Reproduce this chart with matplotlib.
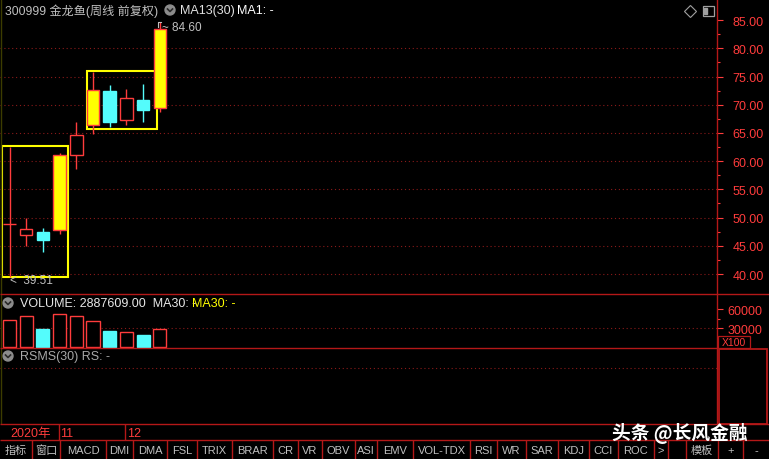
import numpy as np
import matplotlib
matplotlib.use("Agg")
import matplotlib.pyplot as plt
from matplotlib.patches import Rectangle, Circle

plt.rcParams['font.family'] = ['Liberation Sans', 'Noto Sans CJK SC', 'DejaVu Sans']

# weekly candles, 300999 金龙鱼
opens = [48.95, 46.97, 47.39, 47.85, 61.09, 66.46, 72.38, 67.35, 70.89, 69.47]
closes = [48.95, 47.98, 46.08, 61.14, 64.64, 72.66, 66.99, 71.14, 69.12, 83.50]
highs = [62.50, 49.93, 48.10, 61.45, 66.99, 75.75, 73.50, 72.79, 73.62, 84.60]
lows = [39.51, 45.02, 43.85, 47.10, 58.61, 64.81, 66.10, 66.41, 66.89, 68.66]
volumes = [4310000, 4942000, 2889000, 5258000, 4942000, 4105000, 2574000, 2368000, 1942000, 2887609]
highlighted = [3, 5, 9]
# yellow marker boxes: (first week, last week, low price, high price)
boxes = [(-0.45, 3.5, 39.4, 62.7), (4.64, 8.83, 65.7, 75.92)]
month_marks = [(3, '11'), (7, '12')]
price_ticks = [40, 45, 50, 55, 60, 65, 70, 75, 80, 85]
vol_ticks = [30000, 60000]
buttons = ['指标', '窗口', 'MACD', 'DMI', 'DMA', 'FSL', 'TRIX', 'BRAR', 'CR', 'VR', 'OBV',
           'ASI', 'EMV', 'VOL-TDX', 'RSI', 'WR', 'SAR', 'KDJ', 'CCI', 'ROC', '>', '', '模板', '+', '-']
button_edges = [0, 32, 60, 106, 133, 167, 197, 232, 273, 298, 322, 355, 377, 413, 470, 497,
                526, 558, 589, 618, 654, 668, 686, 718, 743, 769]

RED = '#ff3c3c'
CYAN = '#54fcfc'
YEL = '#ffff00'
GRID = '#8a1a1a'
LINE = '#b41818'
GRAY = '#c0c0c0'

W, H = 769, 460
fig = plt.figure(figsize=(W / 100, H / 100), dpi=100, facecolor='black')


def rect(x0, y0, x1, y1):
    return [x0 / W, 1 - y1 / H, (x1 - x0) / W, (y1 - y0) / H]


ax = fig.add_axes(rect(0, 0, 717, 295))
axv = fig.add_axes(rect(0, 295, 717, 349), sharex=ax)
axr = fig.add_axes(rect(0, 349, 717, 425), sharex=ax)
axd = fig.add_axes(rect(0, 425, 717, 441), sharex=ax)
for a in (ax, axv, axr, axd):
    a.set_facecolor('black')
    for s in a.spines.values():
        s.set_visible(False)
    a.tick_params(axis='x', bottom=False, labelbottom=False)
    a.tick_params(axis='y', left=False, labelleft=False)

ax.set_xlim(-0.569, 42.37)
ax.set_ylim(36.46, 88.74)

# price grid
for lv in price_ticks[:-1]:
    ax.axhline(lv, color=GRID, lw=0.8, ls=(0, (1, 2.5)), zorder=1)

x = np.arange(len(opens))
w = 0.75
for i in x:
    o, c, hi, lo = opens[i], closes[i], highs[i], lows[i]
    up = c >= o
    if i in highlighted:
        fc, ec, wc = YEL, RED, RED
    elif up:
        fc, ec, wc = 'black', RED, RED
    else:
        fc, ec, wc = CYAN, CYAN, CYAN
    ax.vlines(i, lo, hi, color=wc, lw=1, zorder=3)
    if abs(c - o) < 0.01:
        ax.hlines(o, i - w / 2, i + w / 2, color=wc, lw=1, zorder=4)
    else:
        ax.bar(i, abs(c - o), bottom=min(o, c), width=w, color=fc, edgecolor=ec, lw=1, zorder=4)

for x0, x1, y0, y1 in boxes:
    ax.add_patch(Rectangle((x0, y0), x1 - x0, y1 - y0, fill=False, ec=YEL, lw=1.5, zorder=2))

imax = int(np.argmax(highs))
ax.annotate('~ 84.60', xy=(imax - 0.1, highs[imax]), xytext=(3, -3), textcoords='offset points',
            ha='left', va='center', color=GRAY, fontsize=8.5, zorder=5)
ax.plot([imax - 0.1, imax - 0.1, imax + 0.05], [highs[imax] - 0.9, highs[imax], highs[imax]],
        color=GRAY, lw=0.8, zorder=5)
imin = int(np.argmin(lows))
ax.annotate('<  39.51', xy=(imin, lows[imin]), xytext=(0.5, -2.5), textcoords='offset points',
            ha='left', va='center', color=GRAY, fontsize=8.5, zorder=5)

ax.yaxis.tick_right()
ax.set_yticks(price_ticks)
ax.set_yticklabels([f'{v:.2f}' for v in price_ticks])
ax.set_yticks([v + 2.5 for v in price_ticks[:-1]], minor=True)
ax.tick_params(axis='y', which='major', right=True, labelright=True, colors=RED,
               length=4.3, width=0.8, pad=7, labelsize=9)
ax.tick_params(axis='y', which='minor', right=True, colors=RED, length=2.2, width=0.8)

# volume
vol_h = np.array(volumes) / 100
axv.set_ylim(-1100, 84150)
axv.axhline(30000, color=GRID, lw=0.8, ls=(0, (1, 2.5)), zorder=1)
for i in x:
    up = closes[i] >= opens[i]
    if up:
        axv.bar(i, vol_h[i], width=0.78, color='black', edgecolor=RED, lw=1, zorder=3)
    else:
        axv.bar(i, vol_h[i], width=0.78, color=CYAN, edgecolor=CYAN, lw=1, zorder=3)
axv.yaxis.tick_right()
axv.set_yticks(vol_ticks)
axv.set_yticklabels([str(v) for v in vol_ticks])
axv.set_yticks([45000], minor=True)
axv.tick_params(axis='y', which='major', right=True, labelright=True, colors=RED,
                length=4.3, width=0.8, pad=3.5, labelsize=9)
axv.tick_params(axis='y', which='minor', right=True, colors=RED, length=2.2, width=0.8)

# RSMS panel
axr.set_ylim(0, 1)
axr.axhline(0.74, color=GRID, lw=0.8, ls=(0, (1, 2.5)))

# date row
axd.set_ylim(0, 1)
axd.text(0.02, 0.45, '2020年', color=RED, fontsize=9, va='center', ha='left')
for idx, lab in month_marks:
    axd.vlines(idx - 0.06, 0, 1, color=LINE, lw=1)
    axd.text(idx + 0.03, 0.45, lab, color=RED, fontsize=9, va='center', ha='left')

# overlay for frame and chrome
ov = fig.add_axes([0, 0, 1, 1], zorder=10)
ov.patch.set_alpha(0)
ov.set_xlim(0, W)
ov.set_ylim(H, 0)
ov.axis('off')

ov.vlines(717, 0, 425, color=LINE, lw=1)
ov.vlines(0.5, 0, 425, color='#3c3c00', lw=1)
ov.hlines([295, 425, 441], 0, W, color=LINE, lw=1)
ov.hlines(349, 0, 717, color=LINE, lw=1)
ov.add_patch(Rectangle((718, 337), 32, 11.5, fill=False, ec=LINE, lw=0.9))
ov.text(734, 343, 'X100', color=RED, fontsize=7.5, va='center', ha='center')
ov.add_patch(Rectangle((718.5, 350), 48.5, 74.5, fill=False, ec=LINE, lw=1.3))

ov.text(5, 11, '300999 金龙鱼(周线 前复权)', color=GRAY, fontsize=8.7, va='center', ha='left')
ov.text(180, 11, 'MA13(30)', color='#e0e0e0', fontsize=9, va='center', ha='left')
ov.text(237, 11, 'MA1: -', color='white', fontsize=9, va='center', ha='left')
ov.text(20, 304, 'VOLUME: 2887609.00  MA30: -', color='#e8e8e8', fontsize=9, va='center', ha='left')
ov.text(192, 304, 'MA30: -', color=YEL, fontsize=9, va='center', ha='left')
ov.text(20, 357, 'RSMS(30) RS: -', color='#a8a8a8', fontsize=9, va='center', ha='left')

for cx, cy in [(170, 11), (8, 304), (8, 357)]:
    ov.add_patch(Circle((cx, cy), 5, color='#8c8c8c'))
    ov.plot([cx - 2.5, cx, cx + 2.5], [cy - 1, cy + 1.5, cy - 1], color='#2a2a2a', lw=1.2)

ov.plot(690, 12, marker='D', ms=6, mfc='none', mec='#a0a0a0', mew=0.8)
ov.add_patch(Rectangle((702.5, 7), 11, 9.5, fill=False, ec='#a0a0a0', lw=0.9))
ov.add_patch(Rectangle((704, 8.5), 3, 6.5, color='#a0a0a0'))

# button bar
ov.vlines(button_edges[1:-1], 441, H, color=LINE, lw=1)
for lab, a, b in zip(buttons, button_edges[:-1], button_edges[1:]):
    ov.text((a + b) / 2, 451, lab, color=GRAY, fontsize=8, va='center', ha='center')

ov.text(612, 434, '头条 @长风金融', color='white', fontsize=13.5, fontweight='bold',
        va='center', ha='left', family=['Noto Sans CJK SC', 'DejaVu Sans'])

fig.savefig('out.png', dpi=100, facecolor='black')
